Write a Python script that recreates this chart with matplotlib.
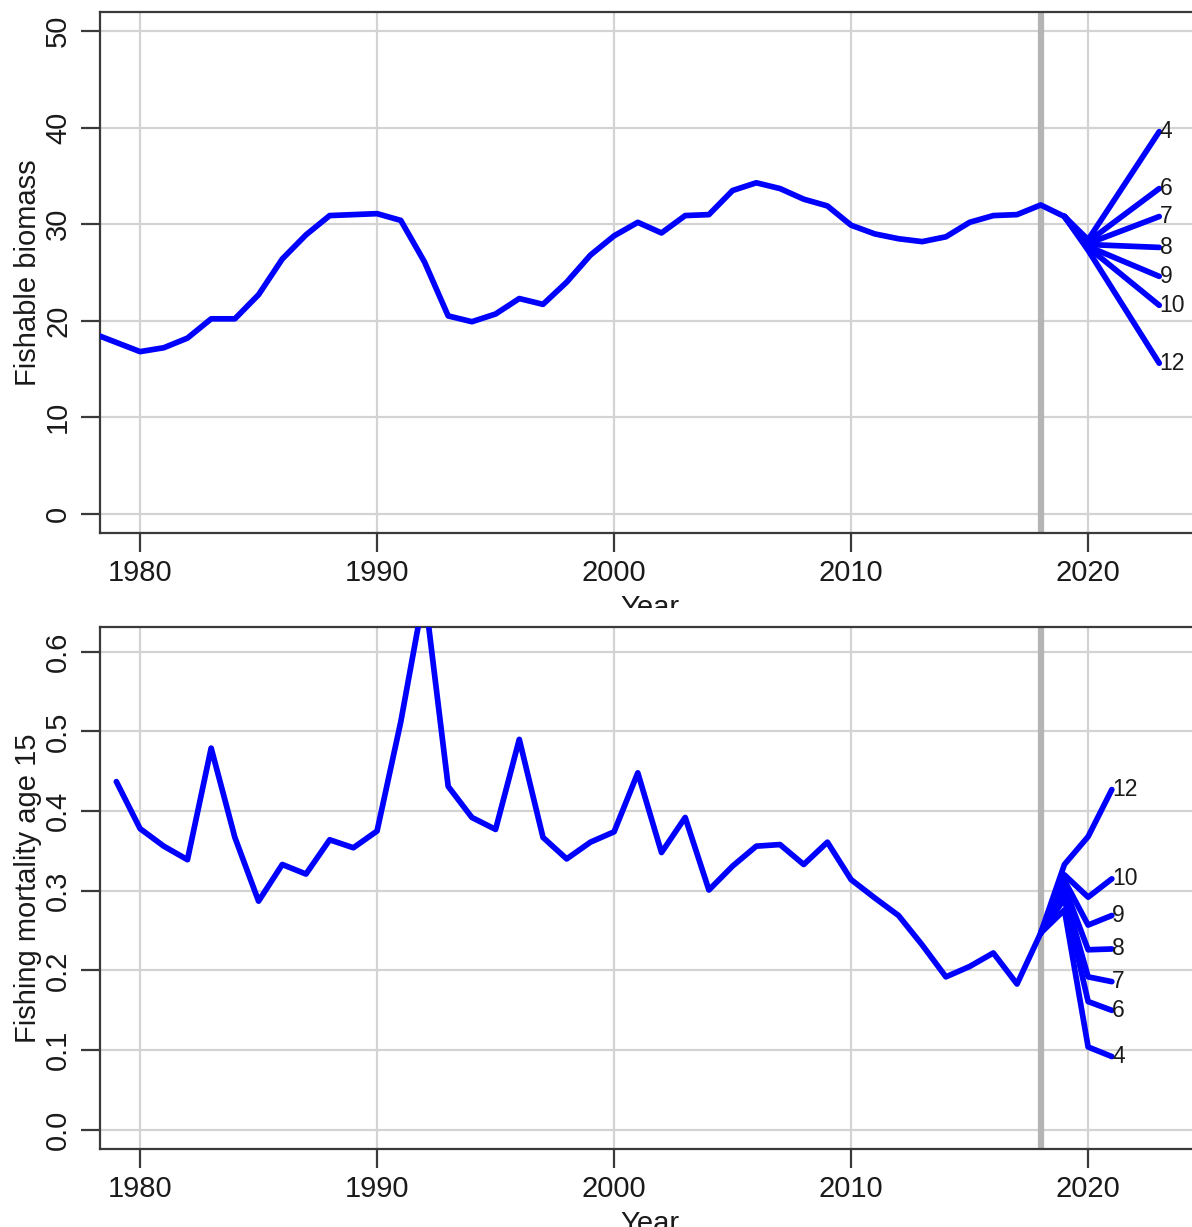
import matplotlib
matplotlib.use("Agg")
import matplotlib.pyplot as plt
from matplotlib.patches import Rectangle

plt.rcParams['font.family'] = ['Liberation Sans', 'DejaVu Sans']

# assessment years
years_b = list(range(1978, 2020))
years_f = list(range(1979, 2019))

biomass = [18.7, 17.75, 16.8, 17.2, 18.2, 20.2, 20.2, 22.7, 26.4, 28.9,
           30.9, 31.0, 31.1, 30.4, 26.1, 20.5, 19.9, 20.7, 22.3, 21.7,
           24.0, 26.8, 28.8, 30.2, 29.1, 30.9, 31.0, 33.5, 34.3, 33.7,
           32.6, 31.9, 29.9, 29.0, 28.5, 28.2, 28.7, 30.2, 30.9, 31.0,
           32.0, 30.8]

fmort = [0.437, 0.378, 0.356, 0.339, 0.479, 0.367, 0.287, 0.333, 0.321, 0.364,
         0.354, 0.375, 0.512, 0.675, 0.431, 0.392, 0.377, 0.490, 0.367, 0.340,
         0.361, 0.374, 0.448, 0.348, 0.392, 0.301, 0.331, 0.356, 0.358, 0.333,
         0.361, 0.314, 0.291, 0.269, 0.232, 0.192, 0.205, 0.222, 0.183, 0.247]

# catch scenarios (projections)
scen = ["4", "6", "7", "8", "9", "10", "12"]
proj_years_b = [2019, 2020, 2023]
bio_2020 = [28.4, 28.2, 28.0, 27.9, 27.7, 27.6, 27.3]
bio_2023 = [39.6, 33.7, 30.8, 27.6, 24.6, 21.6, 15.6]

proj_years_f = [2018, 2019, 2020, 2021]
f_2019 = [0.276, 0.290, 0.297, 0.305, 0.313, 0.320, 0.333]
f_2020 = [0.104, 0.161, 0.192, 0.226, 0.257, 0.292, 0.368]
f_2021 = [0.092, 0.150, 0.186, 0.227, 0.269, 0.315, 0.427]

assess_year = 2018
xticks = [1980, 1990, 2000, 2010, 2020]

W, H = 1192, 1227
fig = plt.figure(figsize=(W / 100, H / 100), dpi=100)

blue = "#0000ff"
lw = 4.1
fs = 21


def setup(ax, ylim, yticks, yticklabels, ylabel):
    ax.set_xlim(1978.31, 2024.72)
    ax.set_ylim(*ylim)
    ax.set_xticks(xticks)
    ax.set_yticks(yticks)
    ax.set_yticklabels(yticklabels)
    ax.grid(True, color="#d3d3d3", lw=1.6)
    ax.set_axisbelow(True)
    ax.axvline(assess_year, color="#b4b4b4", lw=4.5, zorder=1.5)
    for s in ax.spines.values():
        s.set_color("#3a3a3a")
        s.set_linewidth(1.6)
    ax.tick_params(axis="both", length=14, width=1.6, color="#3a3a3a",
                   labelsize=fs, labelcolor="#1a1a1a")
    ax.tick_params(axis="x", pad=5)
    ax.tick_params(axis="y", pad=6, labelrotation=90)
    for lab in ax.get_yticklabels():
        lab.set_verticalalignment("center")
    ax.set_ylabel(ylabel, fontsize=fs, color="#1a1a1a")
    ax.yaxis.set_label_coords(-0.053, 0.5)
    ax.set_xlabel("Year", fontsize=fs, color="#1a1a1a", va="top")
    ax.xaxis.set_label_coords(0.5, -0.117)


# fishable biomass
ax1 = fig.add_axes([100 / W, 1 - 533 / H, 1100 / W, 521 / H])
setup(ax1, (-2, 52), [0, 10, 20, 30, 40, 50],
      ["0", "10", "20", "30", "40", "50"], "Fishable biomass")
ax1.plot(years_b, biomass, color=blue, lw=lw, solid_joinstyle="round",
         solid_capstyle="round", zorder=3)
for i, lab in enumerate(scen):
    yv = [biomass[-1], bio_2020[i], bio_2023[i]]
    ax1.plot(proj_years_b, yv, color=blue, lw=lw, solid_joinstyle="round",
             solid_capstyle="round", zorder=3)
    ax1.text(proj_years_b[-1] + 0.02, bio_2023[i], lab, fontsize=16.5,
             ha="left", va="center", color="#1a1a1a", zorder=4)

# fishing mortality
ax2 = fig.add_axes([100 / W, 1 - 1149 / H, 1100 / W, 522 / H])
setup(ax2, (-0.024, 0.631), [0, 0.1, 0.2, 0.3, 0.4, 0.5, 0.6],
      ["0.0", "0.1", "0.2", "0.3", "0.4", "0.5", "0.6"],
      "Fishing mortality age 15")
ax2.plot(years_f, fmort, color=blue, lw=lw, solid_joinstyle="round",
         solid_capstyle="round", zorder=3)
for i, lab in enumerate(scen):
    yv = [fmort[-1], f_2019[i], f_2020[i], f_2021[i]]
    ax2.plot(proj_years_f, yv, color=blue, lw=lw, solid_joinstyle="round",
             solid_capstyle="round", zorder=3)
    ax2.text(proj_years_f[-1] + 0.02, f_2021[i], lab, fontsize=16.5,
             ha="left", va="center", color="#1a1a1a", zorder=4)

# top panel is trimmed just under its axis title
fig.add_artist(Rectangle((0, 1 - 625 / H), 1, 17 / H, transform=fig.transFigure,
                         facecolor="white", edgecolor="none", zorder=10))

fig.savefig("out.png", dpi=100)
